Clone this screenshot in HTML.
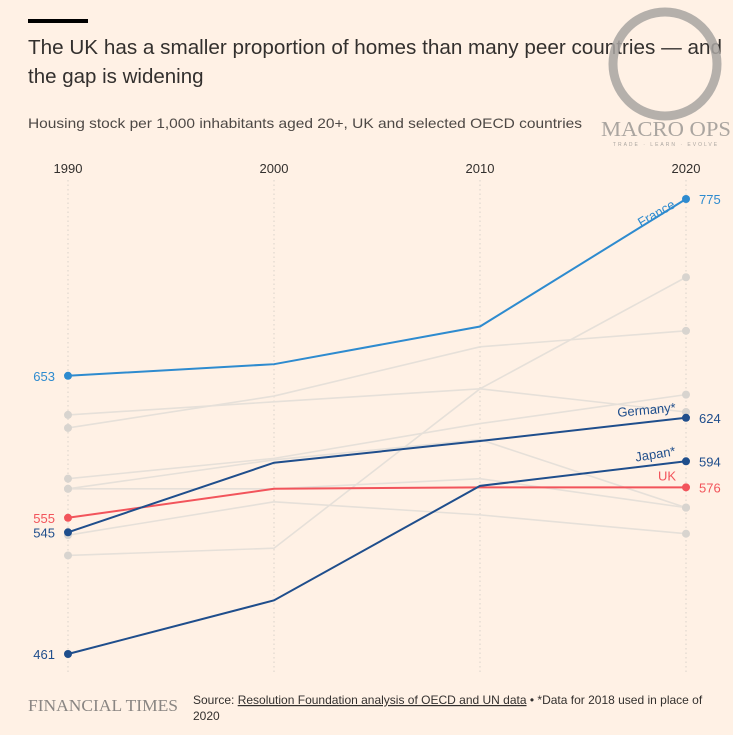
<!DOCTYPE html>
<html><head><meta charset="utf-8"><style>
body{margin:0;background:#fff1e5;width:733px;height:735px;overflow:hidden;font-family:"Liberation Sans",sans-serif;}
svg{display:block}
</style></head><body>
<svg id="chart" width="733" height="735" viewBox="0 0 733 735">
<rect width="733" height="735" fill="#fff1e5"/>
<rect x="28" y="19" width="60" height="4" fill="#000"/>
<text x="28" y="54" font-size="20.5" fill="#33302e" textLength="694" lengthAdjust="spacingAndGlyphs">The UK has a smaller proportion of homes than many peer countries — and</text>
<text x="28" y="83" font-size="20.5" fill="#33302e">the gap is widening</text>
<text x="28" y="128" font-size="14" fill="#4d4845" textLength="554" lengthAdjust="spacingAndGlyphs">Housing stock per 1,000 inhabitants aged 20+, UK and selected OECD countries</text>
<g opacity="0.85">
<circle cx="665" cy="64" r="52" fill="none" stroke="#a9a5a2" stroke-width="9"/>
<text x="666" y="136" font-family="Liberation Serif,serif" font-size="21" fill="#9c9894" text-anchor="middle" textLength="130" lengthAdjust="spacingAndGlyphs">MACRO OPS</text>
<text x="666" y="146" font-size="5" fill="#9c9894" text-anchor="middle" letter-spacing="2">TRADE · LEARN · EVOLVE</text>
</g>
<g id="grid"></g><g id="lines"></g><g id="labels"></g>
<text x="28" y="711" font-family="Liberation Serif,serif" font-size="17" fill="#8a8683" textLength="150" lengthAdjust="spacingAndGlyphs">FINANCIAL TIMES</text>
<text x="193" y="704" font-size="12" fill="#33302e">Source: <tspan text-decoration="underline">Resolution Foundation analysis of OECD and UN data</tspan> • *Data for 2018 used in place of</text>
<text x="193" y="720" font-size="12" fill="#33302e">2020</text>
</svg>
<script>
const years=[1990,2000,2010,2020];
const france=[653,661,687,775];
const germany=[545,593,608,624];
const japan=[461,498,577,594];
const uk=[555,575,576,576];
const grey1=[617,639,673,684];
const grey2=[626,635,644,628];
const grey3=[582,596,620,640];
const grey4=[529,534,644,721];
const grey5=[575,595,609,562];
const grey6=[575,575,582,562];
const grey7=[543,566,557,544];
const greys=[grey1,grey2,grey3,grey4,grey5,grey6,grey7];
const NS='http://www.w3.org/2000/svg';
const x=yr=>68+(yr-1990)*20.6;
const y=v=>199+(775-v)*1.449;
function mk(tag,attrs,parent){const e=document.createElementNS(NS,tag);for(const k in attrs)e.setAttribute(k,attrs[k]);document.getElementById(parent).appendChild(e);return e;}
years.forEach(yr=>{
 const l=mk('line',{x1:x(yr),x2:x(yr),y1:180,y2:672,stroke:'#d9d2ca','stroke-dasharray':'1.5 3','stroke-width':1},'grid');
 
 
 const t=mk('text',{x:x(yr),y:173,'text-anchor':'middle','font-size':13,fill:'#33302e'},'grid');
 t.textContent=yr;
 
 
});
function series(vals,color,w,name,dotColor){
 const p=mk('polyline',{points:vals.map((v,i)=>x(years[i])+','+y(v)).join(' '),fill:'none',stroke:color,'stroke-width':w},'lines');
 
 
 [0,3].forEach(i=>{
  const c=mk('circle',{cx:x(years[i]),cy:y(vals[i]),r:4,fill:dotColor},'lines');
  
  
 });
}
greys.forEach((g,i)=>series(g,'#e6e0d9',1.6,'peer-country-'+(i+1),'#d8d4cf'));
series(uk,'#f2545b',2,'uk','#f2545b');
series(japan,'#1f4e8c',2,'japan','#1f4e8c');
series(germany,'#1f4e8c',2,'germany','#1f4e8c');
series(france,'#2e8bcf',2,'france','#2e8bcf');
function lab(tx,xx,yy,color,anchor,rot,name){
 const t=mk('text',{x:xx,y:yy,'font-size':13,fill:color,'text-anchor':anchor},'labels');
 if(rot)t.setAttribute('transform','rotate('+rot+' '+xx+' '+yy+')');
 t.textContent=tx;
 
 
}
lab(france[0],55,y(france[0])+5,'#2e8bcf','end',0,'france-start-value');
lab(uk[0],55,y(uk[0])+5,'#f2545b','end',0,'uk-start-value');
lab(germany[0],55,y(germany[0])+5,'#1f4e8c','end',0,'germany-start-value');
lab(japan[0],55,y(japan[0])+5,'#1f4e8c','end',0,'japan-start-value');
lab(france[3],699,y(france[3])+5,'#2e8bcf','start',0,'france-end-value');
lab(germany[3],699,y(germany[3])+5,'#1f4e8c','start',0,'germany-end-value');
lab(japan[3],699,y(japan[3])+5,'#1f4e8c','start',0,'japan-end-value');
lab(uk[3],699,y(uk[3])+5,'#f2545b','start',0,'uk-end-value');
lab('France',676,y(france[3])+8,'#2e8bcf','end',-30,'france-label');
lab('Germany*',676,y(germany[3])-6,'#1f4e8c','end',-5,'germany-label');
lab('Japan*',676,y(japan[3])-6,'#1f4e8c','end',-9,'japan-label');
lab('UK',676,y(uk[3])-7,'#f2545b','end',0,'uk-label');
</script>
</body></html>
